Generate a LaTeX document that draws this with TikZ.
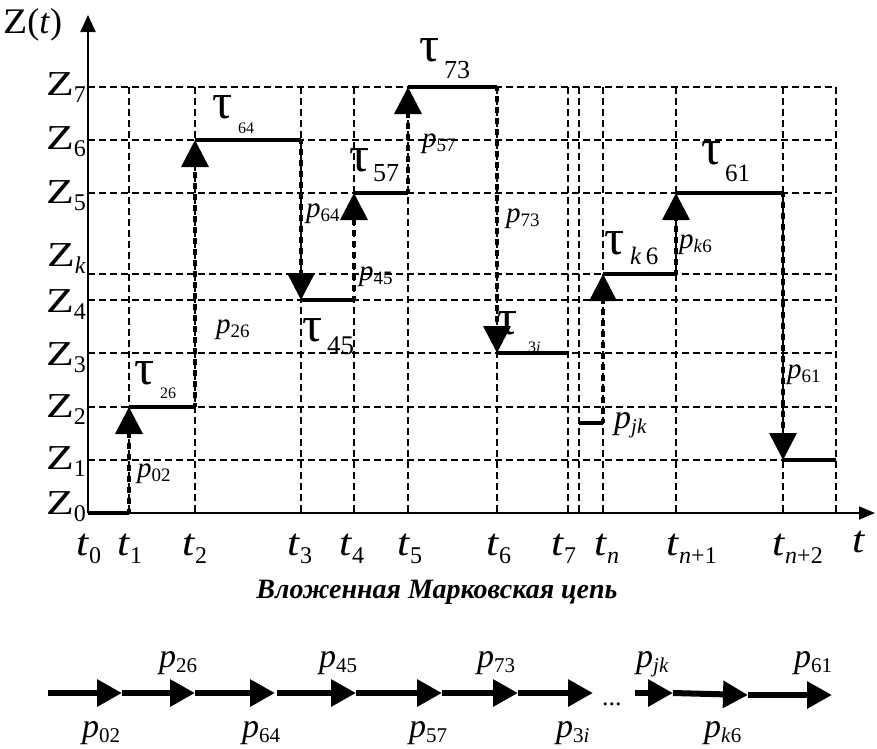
\documentclass[tikz,border=0pt]{standalone}
\usepackage{fontspec}
\setmainfont{Liberation Serif}
\usepackage{graphicx}
\usetikzlibrary{arrows.meta}
\newcommand\fs[1]{\fontsize{#1}{#1}\selectfont}
\newcommand\zlab[1]{\fs{35}\scalebox{1.3}[1]{Z}\raisebox{-7pt}{\fs{24}#1}}
\newcommand\tlab[1]{\fs{38}\scalebox{1.15}[1]{\textit{t}}\raisebox{-8pt}{\fs{24}#1}}
\newcommand\plab[1]{\fs{29}\textit{p}\raisebox{-4pt}{\fs{19}#1}}
\newcommand\pbig[1]{\fs{34}\textit{p}\raisebox{-5pt}{\fs{21}#1}}
\tikzset{
  grid/.style={line width=1.3pt, dash pattern=on 7pt off 4pt},
  state/.style={line width=4pt},
  trans/.style={line width=3.6pt, dash pattern=on 6pt off 5pt, dash phase=2pt, -{Triangle[length=27pt,width=27pt]}},
  axis/.style={line width=2pt},
  lbl/.style={inner sep=0pt, anchor=base west},
  zl/.style={inner sep=0pt, anchor=base east},
  tl/.style={inner sep=0pt, anchor=base west},
  taul/.style={inner sep=0pt, anchor=base west, font=\fs{50}},
  chain/.style={line width=6pt, -{Triangle[length=25pt,width=26pt]}},
}
\begin{document}
\begin{tikzpicture}[x=1pt,y=-1pt]
\useasboundingbox (0,0) rectangle (877,748);
% x positions
\def\xa{88}\def\xb{129}\def\xc{195}\def\xd{301}\def\xe{354}\def\xf{408}\def\xg{497}\def\xh{568}\def\xbr{579}\def\xn{603}\def\xna{676}\def\xnb{783}\def\xr{836}
% y positions
\def\ya{513}\def\yb{460}\def\yc{407}\def\yd{353}\def\ye{300}\def\yk{274}\def\yf{193}\def\yg{140}\def\yh{87}\def\yj{423}
% grid
\foreach \yy in {\yb,\yc,\yd,\ye,\yk,\yf,\yg,\yh}
  \draw[grid] (\xa,\yy) -- (\xr,\yy);
\foreach \xx in {\xb,\xc,\xd,\xe,\xf,\xg,\xh,\xbr,\xn,\xna,\xnb,\xr}
  \draw[grid] (\xx,\yh) -- (\xx,\ya);
% axes
\coordinate (O) at (\xa,\ya);
\coordinate (ytip) at (\xa,15);
\coordinate (xtip) at (875,\ya);
\draw[axis,-{Triangle[length=17pt,width=15pt]}] (O) -- (ytip);
\draw[axis,-{Triangle[length=16pt,width=13pt]}] (O) -- (xtip);
% state points
\coordinate (s0a) at (\xa,\ya); \coordinate (s0b) at (\xb,\ya);
\coordinate (s1a) at (\xb,\yc); \coordinate (s1b) at (\xc,\yc);
\coordinate (s2a) at (\xc,\yg); \coordinate (s2b) at (\xd,\yg);
\coordinate (s3a) at (\xd,\ye); \coordinate (s3b) at (\xe,\ye);
\coordinate (s4a) at (\xe,\yf); \coordinate (s4b) at (\xf,\yf);
\coordinate (s5a) at (\xf,\yh); \coordinate (s5b) at (\xg,\yh);
\coordinate (s6a) at (\xg,\yd); \coordinate (s6b) at (\xh,\yd);
\coordinate (sja) at (\xbr,\yj); \coordinate (sjb) at (\xn,\yj);
\coordinate (ska) at (\xn,\yk); \coordinate (skb) at (\xna,\yk);
\coordinate (s7a) at (\xna,\yf); \coordinate (s7b) at (\xnb,\yf);
\coordinate (s8a) at (\xnb,\yb); \coordinate (s8b) at (\xr,\yb);
\foreach \p in {0,1,2,3,4,5,6,j,k,7,8}
  \draw[state] (s\p a) -- (s\p b);
\draw[trans] (s0b) -- (s1a);
\draw[trans] (s1b) -- (s2a);
\draw[trans] (s2b) -- (s3a);
\draw[trans] (s3b) -- (s4a);
\draw[trans] (s4b) -- (s5a);
\draw[trans] (s5b) -- (s6a);
\draw[trans] (sjb) -- (ska);
\draw[trans] (skb) -- (s7a);
\draw[trans] (s7b) -- (s8a);
% axis labels
\node[inner sep=0pt, anchor=base west] (zt) at (3,33) {\fs{36}\scalebox{1.1}[1]{Z}(\textit{t})};
\node[inner sep=0pt, anchor=base west] (tt) at (852,552) {\fs{38}\scalebox{1.15}[1]{\textit{t}}};
\node[zl] (z7) at (86,95) {\zlab{7}};
\node[zl] (z6) at (86,149) {\zlab{6}};
\node[zl] (z5) at (86,203) {\zlab{5}};
\node[zl] (zk) at (86,266) {\zlab{\textit{k}}};
\node[zl] (z4) at (86,312) {\zlab{4}};
\node[zl] (z3) at (86,365) {\zlab{3}};
\node[zl] (z2) at (86,417) {\zlab{2}};
\node[zl] (z1) at (86,469) {\zlab{1}};
\node[zl] (z0) at (86,514) {\zlab{0}};
% t labels
\node[tl] (t0) at (76,555) {\tlab{0}};
\node[tl] (t1) at (117,555) {\tlab{1}};
\node[tl] (t2) at (182,555) {\tlab{2}};
\node[tl] (t3) at (287,555) {\tlab{3}};
\node[tl] (t4) at (339,555) {\tlab{4}};
\node[tl] (t5) at (397,555) {\tlab{5}};
\node[tl] (t6) at (486,555) {\tlab{6}};
\node[tl] (t7) at (551,555) {\tlab{7}};
\node[tl] (tn) at (594,555) {\tlab{\textit{n}}};
\node[tl] (tn1) at (666,555) {\tlab{\textit{n}+1}};
\node[tl] (tn2) at (772,555) {\tlab{\textit{n}+2}};
% tau labels
\node[taul] (ta26) at (134,384) {τ};
\node[lbl] (ta26s) at (160,398) {\fs{16}26};
\node[taul] (ta64) at (212,118) {τ};
\node[lbl] (ta64s) at (238,133) {\fs{16}64};
\node[taul] (ta45) at (302,341) {τ};
\node[lbl] (ta45s) at (327,354) {\fs{27}45};
\node[taul] (ta57) at (349,171) {τ};
\node[lbl] (ta57s) at (373,181) {\fs{26}57};
\node[taul] (ta73) at (419,61) {τ};
\node[lbl] (ta73s) at (444,78) {\fs{26}73};
\node[taul] (ta3i) at (497,334) {τ};
\node[lbl] (ta3is) at (528,352) {\fs{16}3\textit{i}};
\node[taul] (tak6) at (604,254) {τ};
\node[lbl] (tak6s) at (630,264) {\fs{25}\textit{k}\,6};
\node[taul] (ta61) at (701,164) {τ};
\node[lbl] (ta61s) at (725,181) {\fs{25}61};
% p labels on graph
\node[lbl] (p02) at (137,477) {\plab{02}};
\node[lbl] (p26) at (216,333) {\plab{26}};
\node[lbl] (p64) at (306,217) {\plab{64}};
\node[lbl] (p45) at (359,280) {\plab{45}};
\node[lbl] (p57) at (422,147) {\plab{57}};
\node[lbl] (p73) at (506,222) {\plab{73}};
\node[lbl] (pk6) at (679,248) {\plab{\textit{k}6}};
\node[lbl] (p61) at (787,378) {\plab{61}};
\node[lbl] (pjk) at (614,428) {\pbig{\textit{jk}}};
% caption
\node[inner sep=0pt, anchor=base] (cap) at (437,598) {\fs{28}\bfseries\itshape Вложенная Марковская цепь};
% chain
\def\yc{693}
\coordinate (c0) at (48,\yc);
\coordinate (c1) at (122,\yc);
\coordinate (c2) at (195,\yc);
\coordinate (c3) at (275,\yc);
\coordinate (c3s) at (277,\yc);
\coordinate (c4) at (356,\yc);
\coordinate (c5) at (442,\yc);
\coordinate (c6) at (518,\yc);
\coordinate (c7) at (593,\yc);
\coordinate (c8s) at (635,\yc);
\coordinate (c8) at (673,\yc);
\coordinate (c9) at (748,695);
\coordinate (c10) at (832,695);
\draw[chain] (c0) -- (c1);
\draw[chain] (c1) -- (c2);
\draw[chain] (c2) -- (c3);
\draw[chain] (c3s) -- (c4);
\draw[chain] (c4) -- (c5);
\draw[chain] (c5) -- (c6);
\draw[chain] (c6) -- (c7);
\draw[chain] (c8s) -- (c8);
\draw[chain] (c8) -- (c9);
\draw[chain] (c9) -- (c10);
\node[inner sep=0pt, anchor=base west] (dots) at (602,705) {\fs{26}...};
\node[lbl] (q26) at (159,667) {\pbig{26}};
\node[lbl] (q45) at (319,667) {\pbig{45}};
\node[lbl] (q73) at (477,667) {\pbig{73}};
\node[lbl] (qjk) at (636,667) {\pbig{\textit{jk}}};
\node[lbl] (q61) at (794,667) {\pbig{61}};
\node[lbl] (q02) at (82,737) {\pbig{02}};
\node[lbl] (q64) at (242,737) {\pbig{64}};
\node[lbl] (q57) at (409,737) {\pbig{57}};
\node[lbl] (q3i) at (556,737) {\pbig{3\textit{i}}};
\node[lbl] (qk6) at (704,737) {\pbig{\textit{k}6}};
\end{tikzpicture}
\end{document}
